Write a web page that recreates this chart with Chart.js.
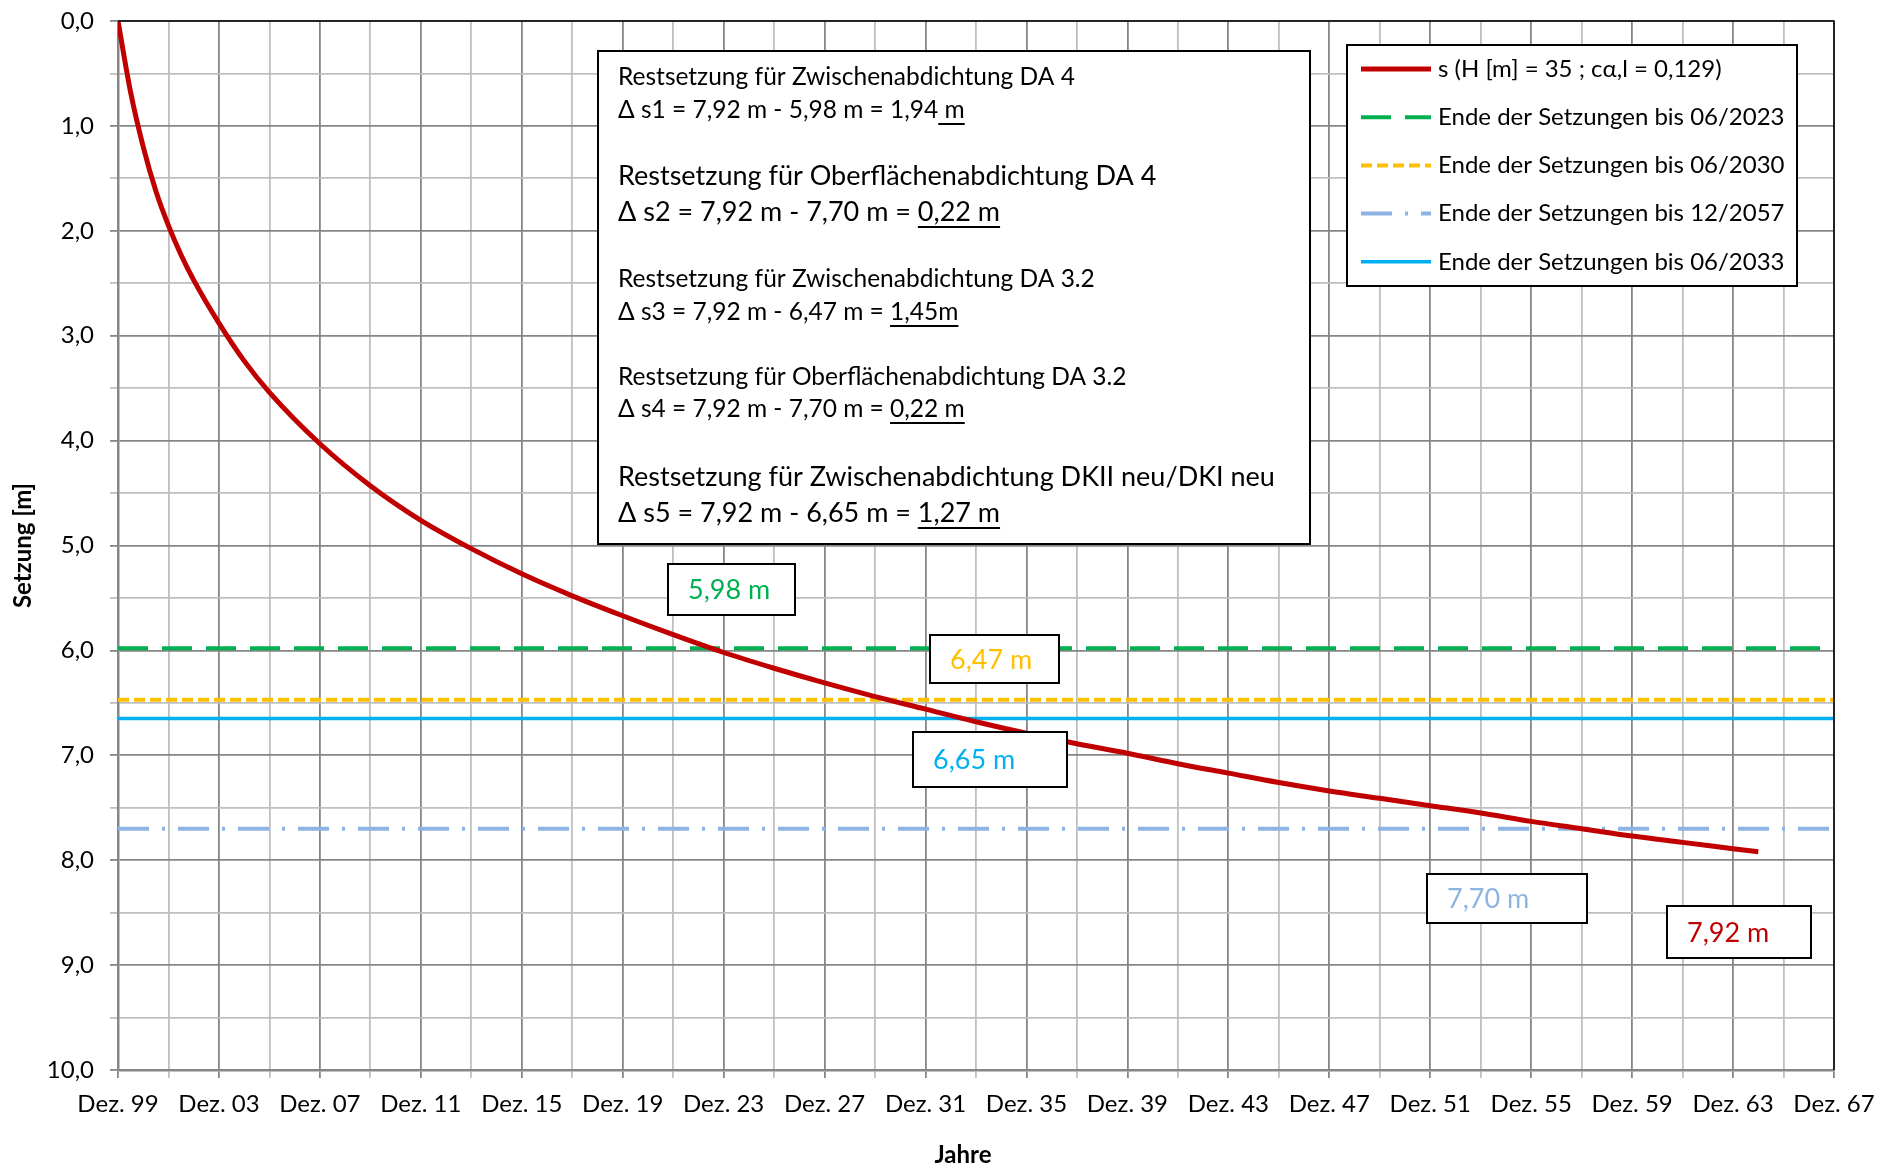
<!DOCTYPE html>
<html>
<head>
<meta charset="utf-8">
<script src="https://cdn.jsdelivr.net/npm/chart.js@4"></script>
<style>
body { margin: 0; background: #fff; }
</style>
</head>
<body>
<canvas id="myChart" width="1892" height="1168"></canvas>
<script>
// Jahre seit Dez. 1999 und Setzung [m]
const jahre = [0, 0.5, 1, 1.5, 2, 2.5, 3, 4, 5, 6, 8, 10, 12, 14, 16, 18, 20, 22, 24, 26, 28, 30, 32, 34, 36, 38, 40, 42, 44, 46, 48, 50, 52, 54, 56, 58, 60, 62, 64, 65]
const setzung = [0, 0.68, 1.2, 1.62, 1.95, 2.23, 2.47, 2.88, 3.24, 3.54, 4.03, 4.43, 4.76, 5.03, 5.27, 5.48, 5.67, 5.85, 6.02, 6.17, 6.31, 6.44, 6.56, 6.68, 6.79, 6.89, 6.98, 7.08, 7.17, 7.26, 7.34, 7.41, 7.48, 7.55, 7.63, 7.70, 7.77, 7.83, 7.89, 7.92]

// Enden der Setzungen (horizontale Linien)
const grenzWerte = [5.98, 6.47, 7.70, 6.65]
const grenzNamen = ['Ende der Setzungen bis 06/2023', 'Ende der Setzungen bis 06/2030', 'Ende der Setzungen bis 12/2057', 'Ende der Setzungen bis 06/2033']
const kurveName = 's (H [m] = 35 ; cα,l = 0,129)'

// Achsen
const xStart = 0
const xEnde = 68
const startJahr = 1999
const yMin = 0
const yMax = 10

const FONT = 'Lato, "Open Sans", sans-serif'
Chart.defaults.color = '#000'
Chart.defaults.font.family = FONT

function kurvePunkte() {
    let pts = []
    for (let i = 0; i < jahre.length; i++) {
        pts.push({ x: jahre[i], y: setzung[i] })
    }
    return pts
}

function linie(wert) {
    return [{ x: xStart, y: wert }, { x: xEnde, y: wert }]
}

const datasets = [
    { label: kurveName, data: kurvePunkte(), borderColor: '#c00000', borderWidth: 5, cubicInterpolationMode: 'monotone' },
    { label: grenzNamen[0], data: linie(grenzWerte[0]), borderColor: '#00b050', borderWidth: 4, borderDash: [30, 14] },
    { label: grenzNamen[1], data: linie(grenzWerte[1]), borderColor: '#ffc000', borderWidth: 4, borderDash: [11, 5] },
    { label: grenzNamen[2], data: linie(grenzWerte[2]), borderColor: '#8eb4e3', borderWidth: 4, borderDash: [31, 13, 3, 13] },
    { label: grenzNamen[3], data: linie(grenzWerte[3]), borderColor: '#00b0f0', borderWidth: 3.5 }
]
datasets.forEach(d => { d.pointRadius = 0; d.fill = false })

// Textkasten: [Text, unterstrichener Teil, groß?, y]
const textZeilen = [
    ['Restsetzung für Zwischenabdichtung DA 4', '', false, 77],
    ['Δ s1 = 7,92 m - 5,98 m = 1,94', ' m', false, 110],
    ['Restsetzung für Oberflächenabdichtung DA 4', '', true, 176],
    ['Δ s2 = 7,92 m - 7,70 m = ', '0,22 m', true, 212],
    ['Restsetzung für Zwischenabdichtung DA 3.2', '', false, 279],
    ['Δ s3 = 7,92 m - 6,47 m = ', '1,45m', false, 312],
    ['Restsetzung für Oberflächenabdichtung DA 3.2', '', false, 377],
    ['Δ s4 = 7,92 m - 7,70 m = ', '0,22 m', false, 409],
    ['Restsetzung für Zwischenabdichtung DKII neu/DKI neu', '', true, 477],
    ['Δ s5 = 7,92 m - 6,65 m = ', '1,27 m', true, 513]
]

// Wertekästen: [Text, Farbe, x, y, w, h]
const wertKaesten = [
    ['5,98 m', '#00b050', 668, 564, 127, 51],
    ['6,47 m', '#ffc000', 930, 635, 129, 48],
    ['6,65 m', '#00b0f0', 913, 732, 154, 55],
    ['7,70 m', '#8eb4e3', 1427, 874, 160, 49],
    ['7,92 m', '#c00000', 1667, 906, 144, 52]
]

function zeichneKasten(ctx, x, y, w, h) {
    ctx.save()
    ctx.fillStyle = '#fff'
    ctx.fillRect(x, y, w, h)
    ctx.strokeStyle = '#000'
    ctx.lineWidth = 2
    ctx.setLineDash([])
    ctx.strokeRect(x, y, w, h)
    ctx.restore()
}

const extras = {
    id: 'extras',
    afterDatasetsDraw(chart) {
        const ctx = chart.ctx
        const a = chart.chartArea
        ctx.save()

        // Rahmen oben und rechts
        ctx.strokeStyle = '#000'
        ctx.lineWidth = 1.5
        ctx.beginPath()
        ctx.moveTo(a.left, a.top)
        ctx.lineTo(a.right, a.top)
        ctx.lineTo(a.right, a.bottom)
        ctx.stroke()

        // Textkasten
        zeichneKasten(ctx, 598, 51, 712, 493)
        ctx.fillStyle = '#000'
        ctx.textBaseline = 'middle'
        ctx.textAlign = 'left'
        for (let z of textZeilen) {
            ctx.font = (z[2] ? 27 : 24.5) + 'px ' + FONT
            let x0 = 618
            ctx.fillText(z[0] + z[1], x0, z[3])
            if (z[1]) {
                let u0 = x0 + ctx.measureText(z[0]).width
                let u1 = x0 + ctx.measureText(z[0] + z[1]).width
                let uy = z[3] + (z[2] ? 14 : 13)
                ctx.fillRect(u0, uy, u1 - u0, 2)
            }
        }

        // Legende
        zeichneKasten(ctx, 1347, 45, 450, 241)
        ctx.font = '24px ' + FONT
        chart.data.datasets.forEach((d, i) => {
            let y = 69 + i * 48.2
            ctx.strokeStyle = d.borderColor
            ctx.lineWidth = d.borderWidth
            ctx.setLineDash(d.borderDash || [])
            ctx.beginPath()
            ctx.moveTo(1361, y)
            ctx.lineTo(1431, y)
            ctx.stroke()
            ctx.setLineDash([])
            ctx.fillStyle = '#000'
            ctx.fillText(d.label, 1438, y)
        })

        // Wertekästen
        ctx.font = '27px ' + FONT
        for (let k of wertKaesten) {
            zeichneKasten(ctx, k[2], k[3], k[4], k[5])
            ctx.fillStyle = k[1]
            ctx.fillText(k[0], k[2] + 20, k[3] + k[5] / 2 + 1)
        }

        // Achsentitel x
        ctx.fillStyle = '#000'
        ctx.font = 'bold 24px ' + FONT
        ctx.textAlign = 'center'
        ctx.fillText('Jahre', 963, 1155)
        ctx.restore()
    }
}

new Chart(document.getElementById('myChart'), {
    type: 'line',
    data: { datasets: datasets },
    plugins: [extras],
    options: {
        responsive: false,
        animation: false,
        layout: { padding: { left: 0, right: 58, top: 21, bottom: 0 } },
        plugins: { legend: { display: false }, tooltip: { enabled: false } },
        scales: {
            x: {
                type: 'linear',
                min: xStart,
                max: xEnde,
                afterFit: (s) => { s.height = 98; s.paddingLeft = 0; s.paddingRight = 0 },
                ticks: {
                    stepSize: 2,
                    autoSkip: false,
                    maxRotation: 0,
                    padding: 12,
                    font: { size: 24 },
                    callback: (v) => v % 4 === 0 ? 'Dez. ' + String((startJahr + v) % 100).padStart(2, '0') : ''
                },
                grid: {
                    color: (c) => c.tick && c.tick.value % 4 === 0 ? '#868686' : '#bfbfbf',
                    lineWidth: 1.8,
                    tickLength: 8
                },
                border: { color: '#868686', width: 2.5 }
            },
            y: {
                type: 'linear',
                reverse: true,
                min: yMin,
                max: yMax,
                afterFit: (s) => { s.width = 118; s.paddingTop = 0; s.paddingBottom = 0 },
                ticks: {
                    stepSize: 0.5,
                    padding: 16,
                    font: { size: 24 },
                    callback: (v) => v % 1 === 0 ? v.toFixed(1).replace('.', ',') : ''
                },
                grid: {
                    color: (c) => c.tick && c.tick.value % 1 === 0 ? '#868686' : '#bfbfbf',
                    lineWidth: 1.8,
                    tickLength: 8
                },
                border: { color: '#868686', width: 2.5 },
                title: { display: true, text: 'Setzung [m]', font: { size: 24, weight: 'bold', lineHeight: 1 }, padding: { top: 11, bottom: 0 } }
            }
        }
    }
})
</script>
</body>
</html>
